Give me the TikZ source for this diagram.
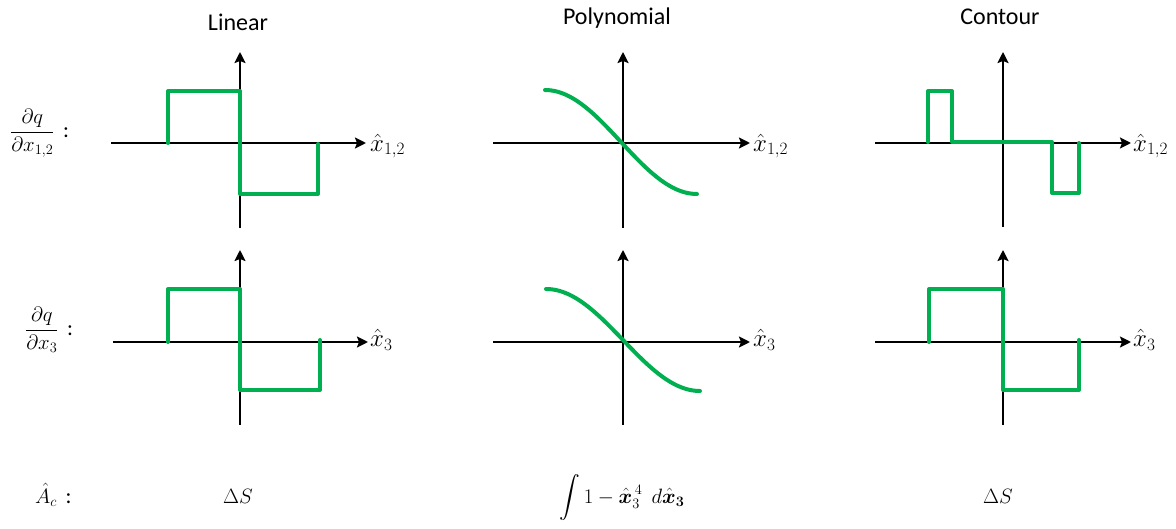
\documentclass[tikz,border=0pt]{standalone}
\usepackage{amsmath,bm}
\usepackage{fontspec}
\setmainfont{Carlito}
\usetikzlibrary{arrows.meta}
\definecolor{plotgreen}{HTML}{00B050}
\begin{document}
\begin{tikzpicture}[x=1pt,y=-1pt,
  axis/.style={draw=black,line width=2.5pt,-{Stealth[length=11pt,width=11pt,inset=2pt]}},
  curve/.style={draw=plotgreen,line width=4pt,line join=round,line cap=round},
  lbl/.style={inner sep=0pt,font=\fontsize{24}{28}\selectfont},
  mlbl/.style={inner sep=0pt,font=\fontsize{22}{26}\selectfont},
]
\useasboundingbox (0,0) rectangle (1176,529);

% titles
\node[lbl,anchor=base] (tlin) at (238,31) {Linear};
\node[lbl,anchor=base] (tpol) at (617,25) {Polynomial};
\node[lbl,anchor=base] (tcon) at (1000,25) {Contour};

% row labels
\node[mlbl,anchor=west] (r1) at (10,133) {$\dfrac{\partial q}{\partial x_{1,2}}$\ \,:};
\node[mlbl,anchor=west] (r2) at (25,330) {$\dfrac{\partial q}{\partial x_{3}}$\ \,:};
\node[mlbl,anchor=base west] (r3) at (35,503) {$\hat{A}_c$\ \,:};

% bottom formulas
\node[mlbl,anchor=base] (f1) at (238,503) {$\Delta S$};
\node[mlbl,anchor=base] (f2) at (622,503) {$\displaystyle\int 1-\bm{\hat{x}}_3^{\,4}\;\, d\bm{\hat{x}_3}$};
\node[mlbl,anchor=base] (f3) at (998,503) {$\Delta S$};

% ---------- Linear, top ----------
\coordinate (a1l) at (111,143); \coordinate (a1r) at (366,143);
\coordinate (a1b) at (240,228); \coordinate (a1t) at (240,52);
\draw[axis] (a1l) -- (a1r);
\draw[axis] (a1b) -- (a1t);
\node[lbl,anchor=west] (x1) at (370,146) {$\hat{x}_{1,2}$};
\draw[curve] (168,143) -- (168,91) -- (240,91) -- (240,194) -- (318,194) -- (318,144);

% ---------- Linear, bottom ----------
\coordinate (a2l) at (113,342); \coordinate (a2r) at (368,342);
\coordinate (a2b) at (240,425); \coordinate (a2t) at (240,250);
\draw[axis] (a2l) -- (a2r);
\draw[axis] (a2b) -- (a2t);
\node[lbl,anchor=west] (x2) at (370,340) {$\hat{x}_{3}$};
\draw[curve] (168,342) -- (168,289) -- (240,289) -- (240,390) -- (320,390) -- (320,340);

% ---------- Polynomial, top ----------
\coordinate (a3l) at (493,143); \coordinate (a3r) at (750,143);
\coordinate (a3b) at (623,228); \coordinate (a3t) at (623,52);
\draw[axis] (a3l) -- (a3r);
\draw[axis] (a3b) -- (a3t);
\node[lbl,anchor=west] (x3) at (753,146) {$\hat{x}_{1,2}$};
\draw[curve] plot[domain=-1:1,samples=60,smooth] ({621+76*\x},{142+52*sin(90*\x)});

% ---------- Polynomial, bottom ----------
\coordinate (a4l) at (493,342); \coordinate (a4r) at (750,342);
\coordinate (a4b) at (623,425); \coordinate (a4t) at (623,250);
\draw[axis] (a4l) -- (a4r);
\draw[axis] (a4b) -- (a4t);
\node[lbl,anchor=west] (x4) at (753,340) {$\hat{x}_{3}$};
\draw[curve] plot[domain=-1:1,samples=60,smooth] ({623+77*\x},{340+51*sin(90*\x)});

% ---------- Contour, top ----------
\coordinate (a5l) at (875,143); \coordinate (a5r) at (1131,143);
\coordinate (a5b) at (1003,227); \coordinate (a5t) at (1003,52);
\draw[axis] (a5l) -- (a5r);
\draw[axis] (a5b) -- (a5t);
\node[lbl,anchor=west] (x5) at (1133,146) {$\hat{x}_{1,2}$};
\draw[curve] (928,142) -- (928,91) -- (952,91) -- (952,142) -- (1052,142) -- (1052,193) -- (1079,193) -- (1079,143);

% ---------- Contour, bottom ----------
\coordinate (a6l) at (875,342); \coordinate (a6r) at (1131,342);
\coordinate (a6b) at (1003,425); \coordinate (a6t) at (1003,250);
\draw[axis] (a6l) -- (a6r);
\draw[axis] (a6b) -- (a6t);
\node[lbl,anchor=west] (x6) at (1133,340) {$\hat{x}_{3}$};
\draw[curve] (929,342) -- (929,289) -- (1003,289) -- (1003,390) -- (1079,390) -- (1079,340);
\end{tikzpicture}
\end{document}
